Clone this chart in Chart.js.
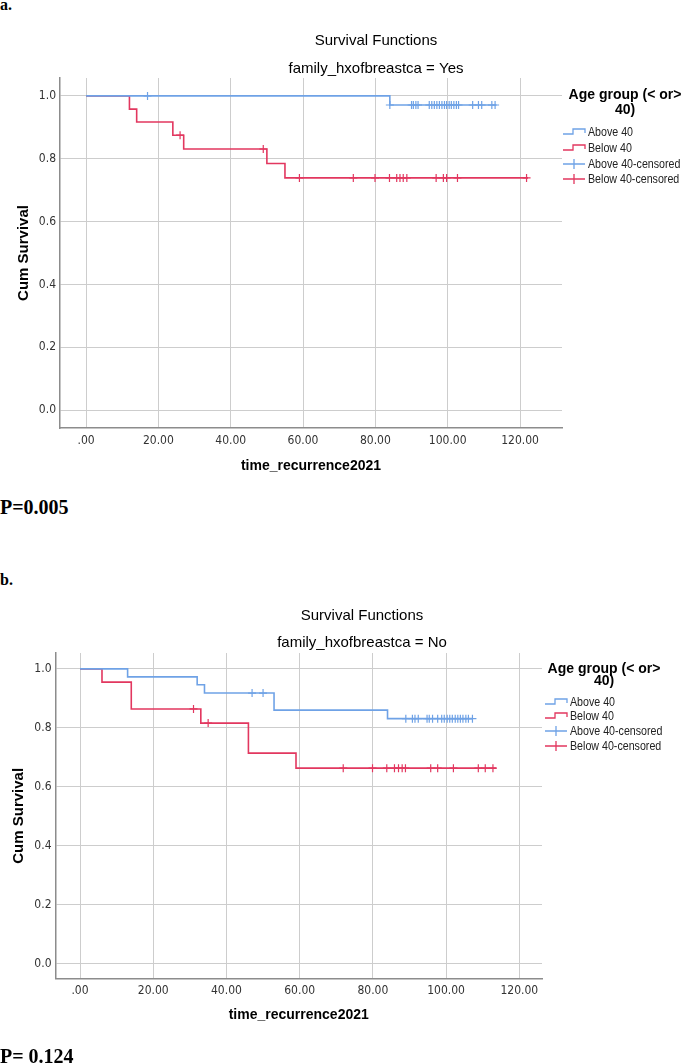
<!DOCTYPE html>
<html lang="en">
<head>
<meta charset="UTF-8">
<title>Survival Functions</title>
<script src="https://cdn.jsdelivr.net/npm/chart.js"></script>
<style>
    body {
        margin: 0;
        background: #fff;
        width: 685px;
        height: 1064px;
        position: relative;
        overflow: hidden;
    }
    .lbl {
        position: absolute;
        left: 0;
        font-family: "Liberation Serif", "Times New Roman", serif;
        font-weight: bold;
        color: #000;
        white-space: nowrap;
    }
    .box {
        position: absolute;
        left: 0;
        width: 685px;
        height: 470px;
    }
</style>
</head>
<body>
<div class="lbl" style="top:-4px;font-size:16px">a.</div>
<div class="box" style="top:20px"><canvas id="chartYes"></canvas></div>
<div class="lbl" style="top:496px;font-size:20px">P=0.005</div>

<div class="lbl" style="top:571px;font-size:16px">b.</div>
<div class="box" style="top:590px"><canvas id="chartNo"></canvas></div>
<div class="lbl" style="top:1045px;font-size:20px">P= 0.124</div>

<script>
// axis ticks
const timeTicks = [0, 20, 40, 60, 80, 100, 120];
const survTicks = [0, 0.2, 0.4, 0.6, 0.8, 1.0];
const groupLabels = ['Above 40', 'Below 40', 'Above 40-censored', 'Below 40-censored'];

// family_hxofbreastca = Yes
const yesAboveTime = [0, 84, 113.5];
const yesAboveSurv = [1, 0.971, 0.971];
const yesAboveCens = [17, 84, 90, 90.5, 91.2, 91.8, 94.9, 95.6, 96.3, 97, 97.7, 98.4, 99.1, 99.7,
    100.4, 101, 101.7, 102.4, 103, 106.9, 108.5, 109.4, 112.2, 113.1];
const yesBelowTime = [0, 12, 14, 24, 27, 50, 55, 122.2];
const yesBelowSurv = [1, 0.958, 0.917, 0.875, 0.831, 0.785, 0.739, 0.739];
const yesBelowCens = [26, 49, 59, 73.9, 79.9, 83.9, 85.9, 86.8, 87.7, 88.7, 96.8, 98.8, 99.7, 102.7, 121.8];

// family_hxofbreastca = No
const noAboveTime = [0, 13, 32, 34, 53, 84, 107.2];
const noAboveSurv = [1, 0.973, 0.946, 0.918, 0.860, 0.831, 0.831];
const noAboveCens = [47, 50, 89, 90.8, 91.5, 92.4, 94.8, 95.4, 96.3, 97.7, 98.8, 99.5, 100.3, 101,
    101.7, 102.5, 103.2, 103.9, 104.6, 105.4, 106.1, 107.2];
const noBelowTime = [0, 6, 14, 33, 46, 59, 113.7];
const noBelowSurv = [1, 0.955, 0.864, 0.816, 0.714, 0.663, 0.663];
const noBelowCens = [31, 35, 71.9, 79.9, 83.8, 85.9, 87, 88, 88.9, 95.8, 97.7, 102, 108.8, 110.7, 112.8];

const BLUE = '#6fa2e6';
const RED = '#e2375f';
const NARROW = '"Liberation Sans Narrow", "Arial Narrow", "DejaVu Sans Condensed", "Liberation Sans", Arial, sans-serif';
const SANS = '"Liberation Sans", Arial, sans-serif';

// survival value of the step curve at time t
function survAt(times, surv, t) {
    let s = surv[0];
    for (let i = 0; i < times.length; i++) {
        if (times[i] <= t) s = surv[i];
    }
    return s;
}

const kmDecor = {
    id: 'kmDecor',
    afterDraw(chart, args, o) {
        const ctx = chart.ctx;
        ctx.save();
        ctx.fillStyle = '#000';
        ctx.textAlign = 'center';
        ctx.textBaseline = 'middle';
        ctx.font = '15px ' + SANS;
        ctx.fillText('Survival Functions', o.titleX, o.titleY);
        ctx.fillText(o.subtitle, o.titleX, o.subY);

        // legend
        ctx.font = 'bold 14px ' + SANS;
        ctx.fillText('Age group (< or>', o.legTitleX, o.legTitleY[0]);
        ctx.fillText('40)', o.legTitleX, o.legTitleY[1]);

        const x0 = o.legX;
        chart.data.datasets.forEach((ds, i) => {
            const y = o.legY[i];
            ctx.strokeStyle = ds.borderColor;
            ctx.lineWidth = 1.3;
            ctx.beginPath();
            if (i < 2) {
                ctx.moveTo(x0, y + 2);
                ctx.lineTo(x0 + 10, y + 2);
                ctx.lineTo(x0 + 10, y - 3);
                ctx.lineTo(x0 + 22, y - 3);
                ctx.lineTo(x0 + 22, y + 1);
            } else {
                ctx.moveTo(x0, y);
                ctx.lineTo(x0 + 22, y);
                ctx.moveTo(x0 + 11, y - 5);
                ctx.lineTo(x0 + 11, y + 5);
            }
            ctx.stroke();
            // condensed item text, like Arial Narrow
            ctx.save();
            ctx.font = '13px ' + SANS;
            ctx.textAlign = 'left';
            ctx.fillStyle = '#222';
            ctx.translate(x0 + 25, y);
            ctx.scale(0.82, 1);
            ctx.fillText(ds.label, 0, 0);
            ctx.restore();
        });
        ctx.restore();
    }
};

function kmChart(id, g, aT, aS, aC, bT, bS, bC) {
    const line = (label, t, s, color) => ({
        label: label,
        data: t.map((v, i) => ({ x: v, y: s[i] })),
        borderColor: color,
        borderWidth: 1.6,
        stepped: true,
        pointRadius: 0,
        fill: false
    });
    const cens = (label, c, t, s, color) => ({
        label: label,
        data: c.map(v => ({ x: v, y: survAt(t, s, v) })),
        borderColor: color,
        backgroundColor: color,
        showLine: false,
        pointStyle: 'cross',
        pointRadius: 4,
        pointBorderWidth: 1.2
    });

    return new Chart(document.getElementById(id), {
        type: 'line',
        data: {
            datasets: [
                line(groupLabels[0], aT, aS, BLUE),
                line(groupLabels[1], bT, bS, RED),
                cens(groupLabels[2], aC, aT, aS, BLUE),
                cens(groupLabels[3], bC, bT, bS, RED)
            ]
        },
        options: {
            responsive: true,
            maintainAspectRatio: false,
            animation: false,
            events: [],
            layout: { padding: { left: 0, top: g.top, right: g.right, bottom: g.bottom } },
            plugins: {
                legend: { display: false },
                tooltip: { enabled: false },
                kmDecor: g
            },
            scales: {
                x: {
                    type: 'linear',
                    min: g.xMin,
                    max: g.xMax,
                    afterBuildTicks: s => { s.ticks = timeTicks.map(v => ({ value: v })); },
                    afterFit: s => { s.height = 50; },
                    grid: { color: '#cdcdcd', drawTicks: false },
                    border: { color: '#8c8c8c', width: 1.5 },
                    ticks: {
                        padding: g.xTickPad,
                        color: '#333',
                        font: { family: NARROW, size: 12 },
                        maxRotation: 0,
                        callback: v => v === 0 ? '.00' : v.toFixed(2)
                    },
                    title: {
                        display: true,
                        text: 'time_recurrence2021',
                        color: '#000',
                        font: { family: SANS, size: 14, weight: 'bold' },
                        padding: { top: 0, bottom: g.xTitlePad }
                    }
                },
                y: {
                    type: 'linear',
                    min: g.yMin,
                    max: g.yMax,
                    afterBuildTicks: s => { s.ticks = survTicks.map(v => ({ value: v })); },
                    afterFit: s => { s.width = g.yAxisW; },
                    grid: { color: '#cdcdcd', drawTicks: false },
                    border: { color: '#8c8c8c', width: 1.5 },
                    ticks: {
                        padding: 4,
                        color: '#333',
                        font: { family: NARROW, size: 12 },
                        callback: v => v.toFixed(1)
                    },
                    title: {
                        display: true,
                        text: 'Cum Survival',
                        color: '#000',
                        font: { family: SANS, size: 15, weight: 'bold' },
                        padding: { top: g.yTitlePad, bottom: 0 }
                    }
                }
            }
        },
        plugins: [kmDecor]
    });
}

kmChart('chartYes', {
    top: 58, right: 123, bottom: 12, yAxisW: 60,
    xMin: -7.2, xMax: 131.6, yMin: -0.057, yMax: 1.057,
    xTickPad: 6, xTitlePad: 3, yTitlePad: 14.6,
    titleX: 376, titleY: 21, subY: 49, subtitle: 'family_hxofbreastca = Yes',
    legTitleX: 625, legTitleY: [75, 90],
    legX: 563, legY: [112, 128, 144, 159]
}, yesAboveTime, yesAboveSurv, yesAboveCens, yesBelowTime, yesBelowSurv, yesBelowCens);

kmChart('chartNo', {
    top: 63, right: 143, bottom: 31.3, yAxisW: 55.5,
    xMin: -6.7, xMax: 126.2, yMin: -0.052, yMax: 1.054,
    xTickPad: 5, xTitlePad: 5.3, yTitlePad: 10,
    titleX: 362, titleY: 26, subY: 53, subtitle: 'family_hxofbreastca = No',
    legTitleX: 604, legTitleY: [79, 91],
    legX: 545, legY: [112, 126, 141, 156]
}, noAboveTime, noAboveSurv, noAboveCens, noBelowTime, noBelowSurv, noBelowCens);
</script>
</body>
</html>
